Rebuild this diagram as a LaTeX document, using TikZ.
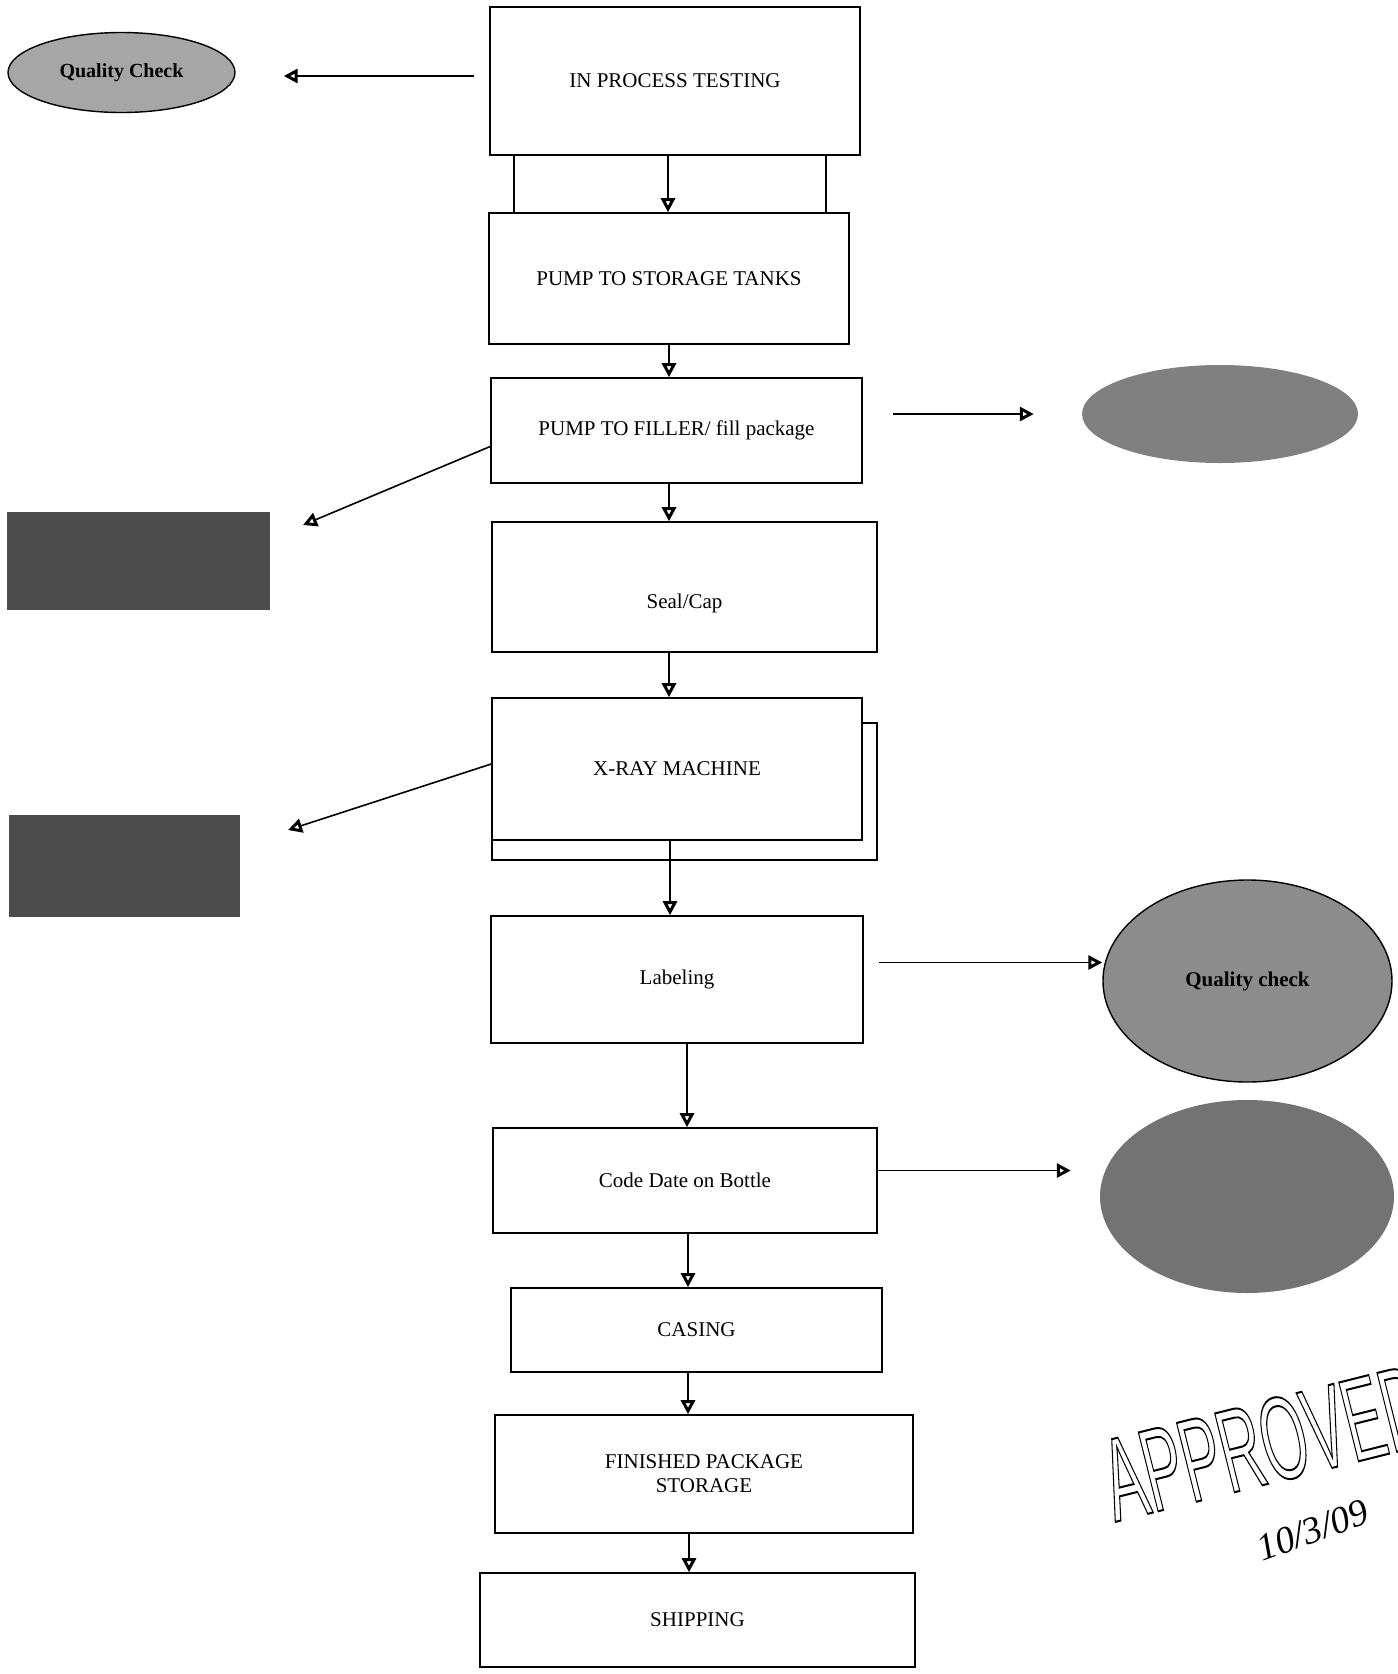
\documentclass[tikz,border=0pt]{standalone}
\usepackage{fontspec}
\setmainfont{Liberation Serif}
\newfontfamily\stampfont{Liberation Sans}
\usetikzlibrary{arrows.meta,shapes.geometric,positioning}
\newcommand{\outlined}[1]{\special{pdf:literal direct 1 Tr 2 w}#1\special{pdf:literal direct 0 Tr}}

\begin{document}
\begin{tikzpicture}[
    x=1pt, y=-1pt,
    box/.style={draw, line width=1.6pt, fill=white, inner sep=0pt, align=center, font=\fontsize{21}{24}\selectfont},
    oval/.style={ellipse, inner sep=0pt, font=\fontsize{21}{24}\selectfont\bfseries},
    patch/.style={rectangle, inner sep=0pt, fill=black!70},
    arr/.style={-{Triangle[open, length=14pt, width=14pt, line width=3pt]}, line width=1.6pt}
]
\useasboundingbox (0,0) rectangle (1398,1674);

\node[box, minimum width=370pt, minimum height=148pt] (ipt) at (675,81) {IN PROCESS TESTING};
\node[box, minimum width=360pt, minimum height=131pt] (storage) at (669,278.5) {PUMP TO STORAGE TANKS};
\node[box, minimum width=371pt, minimum height=105pt] (filler) at (676.5,430.5) {PUMP TO FILLER/ fill package};
\node[box, minimum width=385pt, minimum height=130pt, text height=46pt, text depth=4pt] (seal) at (684.5,587) {Seal/Cap};
\node[box, minimum width=385pt, minimum height=137pt] (xrayback) at (684.5,791.5) {};
\node[box, minimum width=370pt, minimum height=142pt] (xray) at (677,769) {X-RAY MACHINE};
\node[box, minimum width=372pt, minimum height=127pt] (label) at (677,979.5) {Labeling};
\node[box, minimum width=384pt, minimum height=105pt] (code) at (685,1180.5) {Code Date on Bottle};
\node[box, minimum width=371pt, minimum height=84pt] (casing) at (696.5,1330) {CASING};
\node[box, minimum width=418pt, minimum height=118pt] (finished) at (704,1474) {FINISHED PACKAGE\\STORAGE};
\node[box, minimum width=435pt, minimum height=94pt] (ship) at (697.5,1620) {SHIPPING};

% checks beside the line
\node[oval, draw, line width=1.4pt, fill=black!35, minimum width=227pt, minimum height=80pt, font=\fontsize{20}{24}\selectfont\bfseries] (qc1) at (121.5,72.5) {Quality Check};
\node[oval, fill=black!50, minimum width=276pt, minimum height=98pt] (g1) at (1220,414) {};
\node[oval, draw, line width=1.4pt, fill=black!45, minimum width=289pt, minimum height=202pt] (qc2) at (1247.5,981) {Quality check};
\node[oval, fill=black!55, minimum width=294pt, minimum height=193pt] (g3) at (1247,1196.5) {};
\node[patch, minimum width=263pt, minimum height=98pt] (cip1) at (138.5,561) {};
\node[patch, minimum width=231pt, minimum height=102pt] (cip2) at (124.5,866) {};
\coordinate (cip1in) at (303,525);
\coordinate (cip2in) at (288,830);

% stamp
\node[anchor=base west, rotate=14, inner sep=0pt, font=\stampfont\fontsize{118}{118}\selectfont] (stamp) at (1115,1522) {\scalebox{0.5}[1]{\outlined{APPROVED}}};
\node[anchor=base west, rotate=20, inner sep=0pt, font=\itshape\fontsize{38}{38}\selectfont] (date) at (1262,1562) {10/3/09};

% main line
\draw[line width=1.6pt] ([xshift=25]ipt.south west) -- ([xshift=25]ipt.south west |- storage.north);
\draw[line width=1.6pt] ([xshift=-35]ipt.south east) -- ([xshift=-35]ipt.south east |- storage.north);
\draw[arr] ([xshift=-7]ipt.south) -- ([xshift=-7]ipt.south |- storage.north);
\draw[arr] (storage.south) -- (storage.south |- filler.north);
\draw[arr] ([xshift=-7.5]filler.south) -- ([xshift=-7.5]filler.south |- seal.north);
\draw[arr] ([xshift=-15.5]seal.south) -- ([xshift=-15.5]seal.south |- xray.north);
\draw[arr] ([xshift=-7]xray.south) -- ([xshift=-7]xray.south |- label.north);
\draw[arr] ([xshift=10]label.south) -- ([xshift=10]label.south |- code.north);
\draw[arr] ([xshift=3]code.south) -- ([xshift=3]code.south |- casing.north);
\draw[arr] ([xshift=-8.5]casing.south) -- ([xshift=-8.5]casing.south |- finished.north);
\draw[arr] ([xshift=-15]finished.south) -- ([xshift=-15]finished.south |- ship.north);

% side arrows
\draw[arr] ([xshift=-15,yshift=5]ipt.west) -- ([xshift=48,yshift=5]ipt.west -| qc1.east);
\draw[arr] ([xshift=30]filler.east |- g1) -- ([xshift=-48]g1.west);
\draw[arr] ([yshift=-16]filler.west) -- (cip1in);
\draw[arr] ([yshift=5]xray.west) -- (cip2in);
\draw[arr] ([xshift=15,yshift=17]label.east) -- ([yshift=17]label.east -| qc2.west);
\draw[arr] ([yshift=10]code.east) -- ([xshift=-29,yshift=10]code.east -| g3.west);
\end{tikzpicture}
\end{document}
